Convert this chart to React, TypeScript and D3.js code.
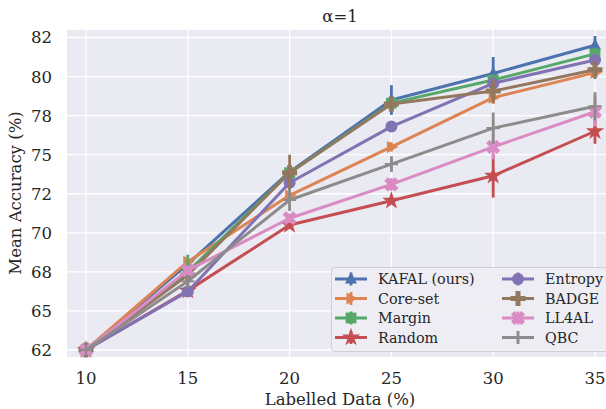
import React, { useEffect, useRef } from "react";
import * as d3 from "d3";

const xValues = [10, 15, 20, 25, 30, 35];
const xTicks = [10, 15, 20, 25, 30, 35];
const yTicks = [62.5, 65, 67.5, 70, 72.5, 75, 77.5, 80, 82.5];
const yTickLabels = ["62", "65", "68", "70", "72", "75", "78", "80", "82"];

const seriesNames = ["KAFAL (ours)", "Core-set", "Margin", "Random", "Entropy", "BADGE", "LL4AL", "QBC"];
const kafal = [62.5, 68.0, 73.9, 78.5, 80.2, 82.0];
const coreset = [62.5, 68.15, 72.4, 75.5, 78.65, 80.25];
const margin = [62.5, 67.5, 73.85, 78.3, 79.78, 81.45];
const random = [62.5, 66.3, 70.5, 72.05, 73.65, 76.5];
const entropy = [62.5, 66.25, 73.2, 76.8, 79.57, 81.06];
const badge = [62.5, 67.3, 73.85, 78.25, 79.07, 80.44];
const ll4al = [62.5, 67.6, 70.93, 73.1, 75.5, 77.75];
const qbc = [62.5, 66.9, 72.1, 74.4, 76.7, 78.1];

const kafalErr = [0, 0.2, 0.3, 0.95, 1.05, 0.6];
const coresetErr = [0, 0.2, 0.2, 0.3, 0.4, 0.3];
const marginErr = [0, 1.1, 0.3, 0.4, 0.3, 0.4];
const randomErr = [0, 0.2, 0.2, 0.2, 1.4, 0.8];
const entropyErr = [0, 0.2, 0.3, 0.3, 0.3, 0.3];
const badgeErr = [0, 0.3, 1.15, 0.3, 0.75, 0.6];
const ll4alErr = [0, 0.3, 0.3, 0.4, 0.8, 0.95];
const qbcErr = [0, 0.4, 0.7, 0.5, 1.0, 0.9];

const seriesValues = [kafal, coreset, margin, random, entropy, badge, ll4al, qbc];
const seriesErrors = [kafalErr, coresetErr, marginErr, randomErr, entropyErr, badgeErr, ll4alErr, qbcErr];
const colors = ["#4C72B0", "#DD8452", "#55A868", "#C44E52", "#8172B3", "#937860", "#DA8BC3", "#8C8C8C"];
const markers = ["triUp", "triRight", "square", "star", "circle", "plus", "xfill", "thinplus"];

const W = 606;
const H = 409;
const plotLeft = 67;
const plotRight = 614;
const plotTop = 30;
const plotBottom = 357;
const FONT = "'DejaVu Serif', serif";
const TEXT = "#262626";

function drawMarker(g: any, kind: string, cx: number, cy: number, color: string) {
  const s = 6;
  if (kind === "triUp") {
    g.append("path").attr("d", `M${cx},${cy - s * 1.15}L${cx + s},${cy + s * 0.75}L${cx - s},${cy + s * 0.75}Z`).attr("fill", color);
  } else if (kind === "triRight") {
    g.append("path").attr("d", `M${cx + s * 1.15},${cy}L${cx - s * 0.75},${cy - s}L${cx - s * 0.75},${cy + s}Z`).attr("fill", color);
  } else if (kind === "square") {
    g.append("rect").attr("x", cx - s * 0.9).attr("y", cy - s * 0.9).attr("width", s * 1.8).attr("height", s * 1.8).attr("fill", color);
  } else if (kind === "star") {
    g.append("path").attr("d", d3.symbol().type(d3.symbolStar).size(105)()).attr("transform", `translate(${cx},${cy})`).attr("fill", color);
  } else if (kind === "circle") {
    g.append("circle").attr("cx", cx).attr("cy", cy).attr("r", s).attr("fill", color);
  } else if (kind === "plus") {
    g.append("path").attr("d", d3.symbol().type(d3.symbolCross).size(125)()).attr("transform", `translate(${cx},${cy})`).attr("fill", color);
  } else if (kind === "xfill") {
    g.append("path").attr("d", d3.symbol().type(d3.symbolCross).size(125)()).attr("transform", `translate(${cx},${cy}) rotate(45)`).attr("fill", color);
  } else if (kind === "thinplus") {
    g.append("path").attr("d", `M${cx - s * 1.1},${cy}L${cx + s * 1.1},${cy}M${cx},${cy - s * 1.1}L${cx},${cy + s * 1.1}`).attr("stroke", color).attr("stroke-width", 2.2);
  }
}

export default function App() {
  const ref = useRef<SVGSVGElement | null>(null);

  useEffect(() => {
    const svg = d3.select(ref.current);
    svg.selectAll("*").remove();

    const x = d3.scaleLinear().domain([10, 35]).range([86, 595]);
    const y = d3.scaleLinear().domain([62.5, 82.5]).range([350, 37.5]);

    svg.append("rect").attr("width", W).attr("height", H).attr("fill", "#ffffff");
    svg.append("rect").attr("x", plotLeft).attr("y", plotTop).attr("width", plotRight - plotLeft).attr("height", plotBottom - plotTop).attr("fill", "#EAEAF2");

    const grid = svg.append("g");
    yTicks.forEach((t) => {
      grid.append("line").attr("x1", plotLeft).attr("x2", plotRight).attr("y1", y(t)).attr("y2", y(t)).attr("stroke", "#ffffff").attr("stroke-width", 1.3);
    });
    xTicks.forEach((t) => {
      grid.append("line").attr("x1", x(t)).attr("x2", x(t)).attr("y1", plotTop).attr("y2", plotBottom).attr("stroke", "#ffffff").attr("stroke-width", 1.3);
    });

    const labels = svg.append("g").attr("font-family", FONT);
    yTicks.forEach((t, i) => {
      labels.append("text").attr("x", 52).attr("y", y(t)).attr("dy", "0.36em").attr("text-anchor", "end").attr("font-size", 16.5).attr("fill", TEXT).text(yTickLabels[i]);
    });
    xTicks.forEach((t) => {
      labels.append("text").attr("x", x(t)).attr("y", 384).attr("text-anchor", "middle").attr("font-size", 16.5).attr("fill", TEXT).text(String(t));
    });
    labels.append("text").attr("x", 340).attr("y", 405).attr("text-anchor", "middle").attr("font-size", 16.5).attr("fill", TEXT).text("Labelled Data (%)");
    labels.append("text").attr("transform", `translate(21,193) rotate(-90)`).attr("text-anchor", "middle").attr("font-size", 16.5).attr("fill", TEXT).text("Mean Accuracy (%)");
    labels.append("text").attr("x", 340).attr("y", 22).attr("text-anchor", "middle").attr("font-size", 16.5).attr("fill", TEXT).text("α=1");

    const line = d3.line<number>().x((_, i) => x(xValues[i])).y((v) => y(v));

    seriesValues.forEach((vals, si) => {
      const g = svg.append("g");
      const c = colors[si];
      g.append("path").attr("d", line(vals) as string).attr("fill", "none").attr("stroke", c).attr("stroke-width", 3).attr("stroke-linejoin", "round");
      vals.forEach((v, i) => {
        const e = seriesErrors[si][i];
        if (e > 0) {
          g.append("line").attr("x1", x(xValues[i])).attr("x2", x(xValues[i])).attr("y1", y(v - e)).attr("y2", y(v + e)).attr("stroke", c).attr("stroke-width", 2.8);
        }
      });
      vals.forEach((v, i) => {
        drawMarker(g, markers[si], x(xValues[i]), y(v), c);
      });
    });

    // legend
    const lg = svg.append("g");
    lg.append("rect").attr("x", 331.5).attr("y", 267.5).attr("width", 290).attr("height", 84).attr("rx", 3).attr("fill", "#EDEDF3").attr("fill-opacity", 0.9).attr("stroke", "#CFCFD6").attr("stroke-width", 1);
    const rowY = [279, 298.5, 318, 337.5];
    seriesNames.forEach((name, si) => {
      const col = Math.floor(si / 4);
      const row = si % 4;
      const hx0 = col === 0 ? 335 : 502;
      const hx1 = hx0 + 32;
      const cy = rowY[row];
      const c = colors[si];
      lg.append("line").attr("x1", hx0).attr("x2", hx1).attr("y1", cy).attr("y2", cy).attr("stroke", c).attr("stroke-width", 3);
      lg.append("line").attr("x1", (hx0 + hx1) / 2).attr("x2", (hx0 + hx1) / 2).attr("y1", cy - 6.5).attr("y2", cy + 6.5).attr("stroke", c).attr("stroke-width", 2.8);
      drawMarker(lg, markers[si], (hx0 + hx1) / 2, cy, c);
      lg.append("text").attr("x", col === 0 ? 378 : 545).attr("y", cy).attr("dy", "0.36em").attr("font-family", FONT).attr("font-size", 14.3).attr("fill", TEXT).text(name);
    });
  }, []);

  return (
    <svg ref={ref} width={W} height={H} style={{ position: "absolute", left: 0, top: 0 }} />
  );
}
